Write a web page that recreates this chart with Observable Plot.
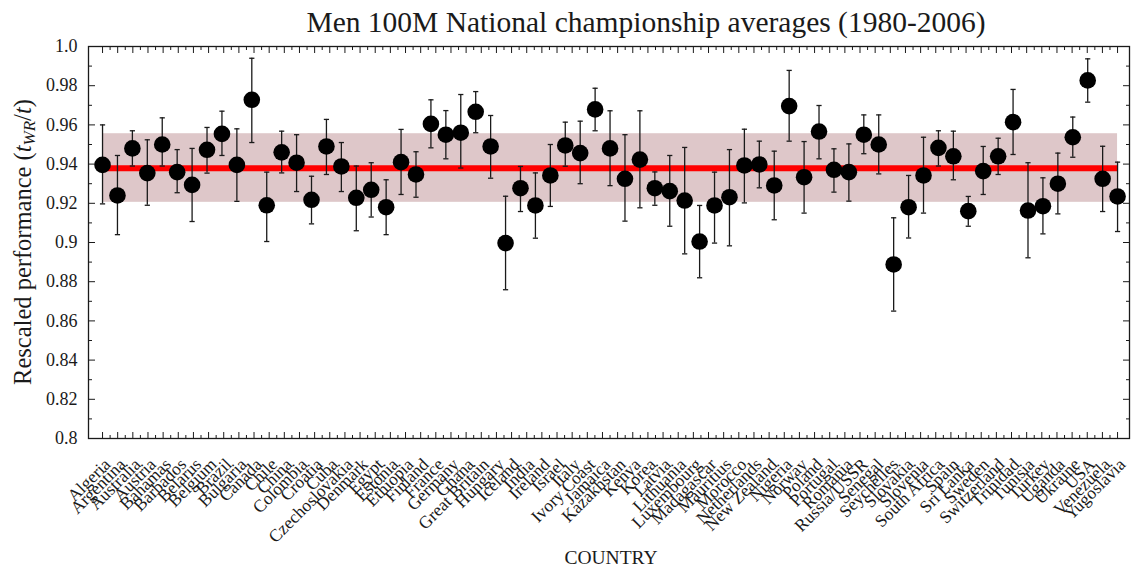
<!DOCTYPE html>
<html>
<head>
<meta charset="utf-8">
<script src="https://cdn.jsdelivr.net/npm/d3@7"></script>
<script src="https://cdn.jsdelivr.net/npm/@observablehq/plot@0.6"></script>
<style>
  html, body { margin: 0; padding: 0; background: #ffffff; }
  #chart { width: 1140px; height: 567px; overflow: hidden; }
  #chart svg, #chart svg text { font-family: "Liberation Serif", "DejaVu Serif", serif !important; }
</style>
</head>
<body>
<div id="chart"></div>
<script>
// ---- Data ----
const countries = [
  "Algeria", "Argentina", "Australia", "Austria", "Bahamas", "Barbados", "Belarus", "Belgium",
  "Brazil", "Bulgaria", "Canada", "Chile", "China", "Colombia", "Croatia", "Cuba",
  "Czechoslovakia", "Denmark", "Egypt", "Estonia", "Ethiopia", "Finland", "France", "Germany",
  "Ghana", "Great Britain", "Hungary", "Iceland", "India", "Ireland", "Israel", "Italy",
  "Ivory Coast", "Jamaica", "Kazakhstan", "Kenya", "Korea", "Latvia", "Lithuania", "Luxembourg",
  "Madagascar", "Mauritius", "Morocco", "Netherlands", "New Zealand", "Nigeria", "Norway", "Poland",
  "Portugal", "Romania", "Russia/USSR", "Senegal", "Seychelles", "Slovakia", "Slovenia", "South Africa",
  "Spain", "Sri Lanka", "Sweden", "Switzerland", "Trinidad", "Tunisia", "Turkey", "Uganda",
  "Ukraine", "USA", "Venezuela", "Yugoslavia"
];

// point estimates (the reference draws one more point than it has labels)
const means = [
  0.9396, 0.9240, 0.9480, 0.9354, 0.9500, 0.9359, 0.9294, 0.9473, 0.9554, 0.9396,
  0.9728, 0.9190, 0.9460, 0.9407, 0.9218, 0.9490, 0.9388, 0.9228, 0.9269, 0.9180,
  0.9410, 0.9347, 0.9605, 0.9550, 0.9560, 0.9667, 0.9490, 0.8997, 0.9277, 0.9189,
  0.9342, 0.9495, 0.9456, 0.9679, 0.9480, 0.9325, 0.9423, 0.9277, 0.9262, 0.9214,
  0.9005, 0.9189, 0.9231, 0.9393, 0.9398, 0.9291, 0.9696, 0.9333, 0.9566, 0.9371,
  0.9359, 0.9550, 0.9500, 0.8888, 0.9180, 0.9342, 0.9483, 0.9440, 0.9160, 0.9364,
  0.9440, 0.9614, 0.9163, 0.9185, 0.9300, 0.9537, 0.9827, 0.9325, 0.9235
];
const lows = [
  0.9197, 0.9040, 0.9390, 0.9190, 0.9390, 0.9254, 0.9107, 0.9354, 0.9444, 0.9210,
  0.9510, 0.9005, 0.9355, 0.9260, 0.9095, 0.9347, 0.9260, 0.9060, 0.9130, 0.9040,
  0.9245, 0.9231, 0.9483, 0.9427, 0.9380, 0.9560, 0.9328, 0.8759, 0.9158, 0.9022,
  0.9184, 0.9389, 0.9300, 0.9570, 0.9290, 0.9109, 0.9177, 0.9190, 0.9083, 0.8942,
  0.8820, 0.8997, 0.8983, 0.9202, 0.9279, 0.9116, 0.9517, 0.9150, 0.9427, 0.9257,
  0.9211, 0.9453, 0.9350, 0.8650, 0.9023, 0.9150, 0.9390, 0.9320, 0.9083, 0.9245,
  0.9347, 0.9449, 0.8922, 0.9044, 0.9146, 0.9435, 0.9716, 0.9158, 0.9056
];
const highs = [
  0.9600, 0.9444, 0.9570, 0.9524, 0.9636, 0.9474, 0.9480, 0.9587, 0.9670, 0.9580,
  0.9940, 0.9359, 0.9568, 0.9550, 0.9338, 0.9628, 0.9510, 0.9390, 0.9407, 0.9320,
  0.9577, 0.9463, 0.9728, 0.9673, 0.9755, 0.9770, 0.9648, 0.9236, 0.9388, 0.9355,
  0.9500, 0.9614, 0.9619, 0.9787, 0.9672, 0.9550, 0.9672, 0.9360, 0.9444, 0.9485,
  0.9189, 0.9359, 0.9474, 0.9578, 0.9517, 0.9466, 0.9878, 0.9515, 0.9699, 0.9478,
  0.9503, 0.9651, 0.9651, 0.9126, 0.9342, 0.9537, 0.9570, 0.9568, 0.9235, 0.9490,
  0.9532, 0.9781, 0.9407, 0.9330, 0.9456, 0.9640, 0.9937, 0.9491, 0.9410
];

const overallMean = 0.9379;
const bandLow = 0.9205;
const bandHigh = 0.9555;

const yTicks = [0.8, 0.82, 0.84, 0.86, 0.88, 0.9, 0.92, 0.94, 0.96, 0.98, 1.0];
const yMinorTicks = [0.81, 0.83, 0.85, 0.87, 0.89, 0.91, 0.93, 0.95, 0.97, 0.99];
const yTickLabels = ["0.8", "0.82", "0.84", "0.86", "0.88", "0.9", "0.92", "0.94", "0.96", "0.98", "1.0"];

const titleText = "Men 100M National championship averages (1980-2006)";
const xTitle = "COUNTRY";

// ---- Derived tables ----
const points = means.map((m, i) => ({i, m, lo: lows[i], hi: highs[i]}));
const lastIndex = d3.max(points, d => d.i);
const firstIndex = d3.min(points, d => d.i);
// labels are spread evenly over the span of the points (as in the reference)
const labelRows = countries.map((c, k) => ({name: c, pos: firstIndex + k * (lastIndex - firstIndex) / (countries.length - 1)}));
const labelPos = labelRows.map(d => d.pos);
const minorX = labelPos.slice(1).map((p, k) => (p + labelPos[k]) / 2);
const yLabelMap = new Map(yTicks.map((t, k) => [t, yTickLabels[k]]));

const capSymbol = {
  draw(context, size) {
    const w = Math.sqrt(size / Math.PI);
    context.moveTo(-w, 0);
    context.lineTo(w, 0);
  }
};

const serif = "Liberation Serif, DejaVu Serif, serif";
const ink = "#1a1a1a";

const chart = Plot.plot({
  width: 1140,
  height: 567,
  marginLeft: 88,
  marginRight: 11,
  marginTop: 46,
  marginBottom: 129,
  style: {fontFamily: serif, background: "#ffffff", color: ink},
  x: {domain: [-0.94, 68.8], label: null},
  y: {domain: [0.8, 1.0], label: null},
  marks: [
    Plot.rect([{x1: firstIndex, x2: lastIndex, y1: bandLow, y2: bandHigh}],
      {x1: "x1", x2: "x2", y1: "y1", y2: "y2", fill: "#dec7c9"}),
    Plot.ruleY([overallMean], {x1: firstIndex, x2: lastIndex, stroke: "#ff0000", strokeWidth: 6}),
    Plot.ruleX(points, {x: "i", y1: "lo", y2: "hi", stroke: ink, strokeWidth: 1.3}),
    Plot.dot(points, {x: "i", y: "hi", symbol: capSymbol, r: 2.6, stroke: ink, strokeWidth: 1.3, fill: "none"}),
    Plot.dot(points, {x: "i", y: "lo", symbol: capSymbol, r: 2.6, stroke: ink, strokeWidth: 1.3, fill: "none"}),
    Plot.dot(points, {x: "i", y: "m", r: 8.3, fill: "#000000"}),
    Plot.frame({stroke: ink, strokeWidth: 1.3}),
    // y axis labels + inward ticks (left & right)
    Plot.axisY(yTicks, {anchor: "left", tickSize: 0, tickPadding: 11, tickFormat: d => yLabelMap.get(d), fontSize: 18, fill: ink, label: null}),
    Plot.axisY(yTicks, {anchor: "left", tickSize: -7, tickFormat: () => "", label: null, stroke: ink}),
    Plot.axisY(yMinorTicks, {anchor: "left", tickSize: -4, tickFormat: () => "", label: null, stroke: ink}),
    Plot.axisY(yTicks, {anchor: "right", tickSize: -7, tickFormat: () => "", label: null, stroke: ink}),
    Plot.axisY(yMinorTicks, {anchor: "right", tickSize: -4, tickFormat: () => "", label: null, stroke: ink}),
    // x axis inward ticks (bottom & top)
    Plot.axisX(labelPos, {anchor: "bottom", tickSize: -6, tickFormat: () => "", label: null, stroke: ink}),
    Plot.axisX(minorX, {anchor: "bottom", tickSize: -3, tickFormat: () => "", label: null, stroke: ink}),
    Plot.axisX(labelPos, {anchor: "top", tickSize: -6, tickFormat: () => "", label: null, stroke: ink}),
    Plot.axisX(minorX, {anchor: "top", tickSize: -3, tickFormat: () => "", label: null, stroke: ink}),
    // rotated country labels
    Plot.text(labelRows, {x: "pos", text: "name", frameAnchor: "bottom", rotate: -45, textAnchor: "end",
      lineAnchor: "middle", dx: 5, dy: 23, fontSize: 17.5, fill: ink}),
    // titles
    Plot.text([titleText], {frameAnchor: "top", dx: 37, dy: -24, fontSize: 29.5, fill: ink, lineAnchor: "middle"}),
    Plot.text([xTitle], {frameAnchor: "bottom", dx: 2, dy: 119, fontSize: 19.5, fill: ink, lineAnchor: "middle"})
  ]
});

document.getElementById("chart").appendChild(chart);

// y-axis title with italic t and subscript WR
const svg = d3.select(chart);
const yt = svg.append("text")
  .attr("transform", "translate(31,242) rotate(-90)")
  .attr("text-anchor", "middle")
  .attr("font-family", serif)
  .attr("font-size", 24.5)
  .attr("fill", ink);
yt.append("tspan").text("Rescaled performance (");
yt.append("tspan").attr("font-style", "italic").text("t");
yt.append("tspan").attr("font-style", "italic").attr("font-size", 17).attr("dy", 4).text("WR");
yt.append("tspan").attr("dy", -4).text("/");
yt.append("tspan").attr("font-style", "italic").text("t");
yt.append("tspan").text(")");
</script>
</body>
</html>
